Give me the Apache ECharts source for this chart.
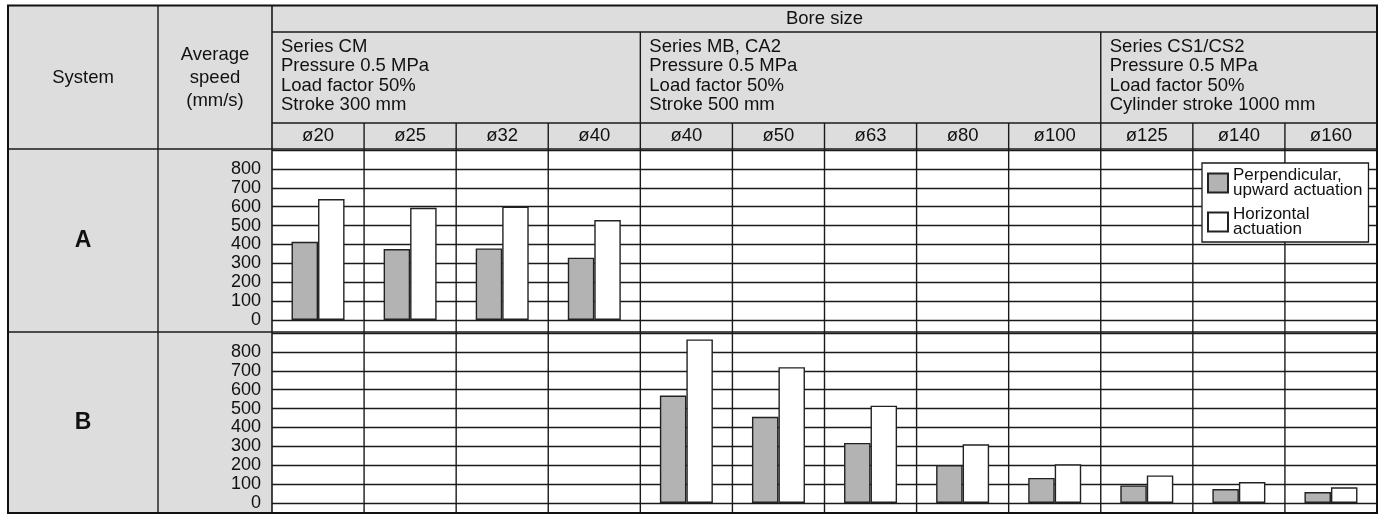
<!DOCTYPE html>
<html><head><meta charset="utf-8">
<script src="https://cdn.jsdelivr.net/npm/echarts@6/dist/echarts.min.js"></script>
<style>html,body{margin:0;padding:0;background:#fff}#c{width:1381px;height:516px}</style>
</head><body><div id="c"></div>
<script>
// ---- data ----
const boreSizes = ['ø20','ø25','ø32','ø40','ø40','ø50','ø63','ø80','ø100','ø125','ø140','ø160'];
const seriesNames = ['Perpendicular,\nupward actuation', 'Horizontal\nactuation'];
const systemAPerpendicular = [414, 376, 379, 330, null, null, null, null, null, null, null, null];
const systemAHorizontal    = [640, 594, 600, 529, null, null, null, null, null, null, null, null];
const systemBPerpendicular = [null, null, null, null, 569, 456, 318, 200, 133, 93, 74, 58];
const systemBHorizontal    = [null, null, null, null, 866, 719, 515, 311, 205, 146, 111, 83];
const yTickLabels = ['0','100','200','300','400','500','600','700','800'];
const groupTexts = [
  'Series CM\nPressure 0.5 MPa\nLoad factor 50%\nStroke 300 mm',
  'Series MB, CA2\nPressure 0.5 MPa\nLoad factor 50%\nStroke 500 mm',
  'Series CS1/CS2\nPressure 0.5 MPa\nLoad factor 50%\nCylinder stroke 1000 mm'
];
const groupStarts = [0, 4, 9];
const systems = ['A', 'B'];

// ---- layout ----
const FONT = '"Liberation Sans", Arial, Helvetica, sans-serif';
const X0 = 8, XSYS = 158, XSPD = 272, XEND = 1377;
const Y0 = 5.5, YBORE = 32, YSER = 123, YDIA = 149, YA = 332, YEND = 513;
const colW = (XEND - XSPD) / boreSizes.length;
const colX = i => XSPD + i * colW;
const INK = '#1a1a1a';
const GRAY_BG = '#dddddd';
const HFS = 18.5;

const g = [];
function rect(x, y, w, h, fill) {
  g.push({type: 'rect', z: -5, silent: true, shape: {x, y, width: w, height: h}, style: {fill}});
}
function line(x1, y1, x2, y2, w) {
  g.push({type: 'line', z: 1, silent: true, shape: {x1, y1, x2, y2}, style: {stroke: INK, lineWidth: w || 1.4}});
}
function text(x, y, t, opts) {
  opts = opts || {};
  g.push({type: 'text', z: 10, silent: true, style: Object.assign({
    x, y, text: t, fill: '#111', fontFamily: FONT, fontSize: HFS,
    align: 'center', verticalAlign: 'middle', textAlign: 'center', textVerticalAlign: 'middle'
  }, opts)});
}

// backgrounds
rect(X0, Y0, XEND - X0, YDIA - Y0, GRAY_BG);
rect(X0, YDIA, XSPD - X0, YEND - YDIA, GRAY_BG);

// horizontal rules
line(XSPD, YBORE, XEND, YBORE);
line(XSPD, YSER, XEND, YSER);
line(X0, YDIA, XEND, YDIA, 1.6);
line(X0, YA, XEND, YA, 1.6);
// vertical rules
line(XSYS, Y0, XSYS, YEND);
line(XSPD, Y0, XSPD, YEND, 1.6);
groupStarts.slice(1).forEach(i => line(colX(i), YBORE, colX(i), YSER));
for (let i = 1; i < boreSizes.length; i++) line(colX(i), YSER, colX(i), YEND);
// outer border
g.push({type: 'rect', z: 12, silent: true, shape: {x: X0, y: Y0, width: XEND - X0, height: YEND - Y0},
  style: {fill: 'none', stroke: '#111', lineWidth: 2}});

// header texts
text((X0 + XSYS) / 2, 78, 'System');
text((XSYS + XSPD) / 2, 78, 'Average\nspeed\n(mm/s)', {lineHeight: 23});
text((XSPD + XEND) / 2, 19, 'Bore size');
groupTexts.forEach((t, k) => {
  text(colX(groupStarts[k]) + 9, 76, t, {align: 'left', textAlign: 'left', lineHeight: 19.5});
});
// system labels
text((X0 + XSYS) / 2, (YDIA + YA) / 2, systems[0], {fontWeight: 'bold', fontSize: 23});
text((X0 + XSYS) / 2, (YA + YEND) / 2, systems[1], {fontWeight: 'bold', fontSize: 23});

const chart = echarts.init(document.getElementById('c'), null, {renderer: 'canvas'});

function yAxisCfg(idx) {
  return {
    type: 'value', gridIndex: idx, min: 0, max: 900, interval: 100,
    axisLine: {show: false}, axisTick: {show: false},
    axisLabel: {
      margin: 11, color: '#111', fontFamily: FONT, fontSize: 18,
      formatter: v => (yTickLabels.indexOf(String(v)) >= 0 ? String(v) : '')
    },
    splitLine: {lineStyle: {color: INK, width: 1.4}}
  };
}
function xAxisCfg(idx, showLabels) {
  return {
    type: 'category', gridIndex: idx, data: boreSizes, position: 'top',
    axisLine: {show: false}, axisTick: {show: false}, splitLine: {show: false},
    axisLabel: {show: showLabels, interval: 0, margin: 5, color: '#111', fontFamily: FONT, fontSize: HFS}
  };
}
const barStyleP = {color: '#b3b3b3', borderColor: '#222', borderWidth: 1.4};
const barStyleH = {color: '#ffffff', borderColor: '#222', borderWidth: 1.4};
function bars(name, data, idx, style) {
  return {type: 'bar', name, data, xAxisIndex: idx, yAxisIndex: idx,
    barWidth: 26.5, barGap: '0%', itemStyle: style, silent: true, animation: false};
}

chart.setOption({
  animation: false,
  backgroundColor: '#ffffff',
  textStyle: {fontFamily: FONT},
  grid: [
    {left: XSPD, right: 1381 - XEND, top: 150, height: 170},
    {left: XSPD, right: 1381 - XEND, top: 333, height: 170}
  ],
  xAxis: [xAxisCfg(0, true), xAxisCfg(1, false)],
  yAxis: [yAxisCfg(0), yAxisCfg(1)],
  legend: {
    data: seriesNames, orient: 'vertical', left: 1202, top: 163,
    padding: [4, 6, 4, 5], itemGap: 7, itemWidth: 20, itemHeight: 19,
    backgroundColor: '#fff', borderColor: INK, borderWidth: 1.3, borderRadius: 0,
    icon: 'rect', selectedMode: false, z: 20,
    textStyle: {fontFamily: FONT, fontSize: 17, lineHeight: 15, color: '#111'}
  },
  graphic: {elements: g},
  series: [
    bars(seriesNames[0], systemAPerpendicular, 0, barStyleP),
    bars(seriesNames[1], systemAHorizontal, 0, barStyleH),
    bars(seriesNames[0], systemBPerpendicular, 1, barStyleP),
    bars(seriesNames[1], systemBHorizontal, 1, barStyleH)
  ]
});
</script></body></html>
